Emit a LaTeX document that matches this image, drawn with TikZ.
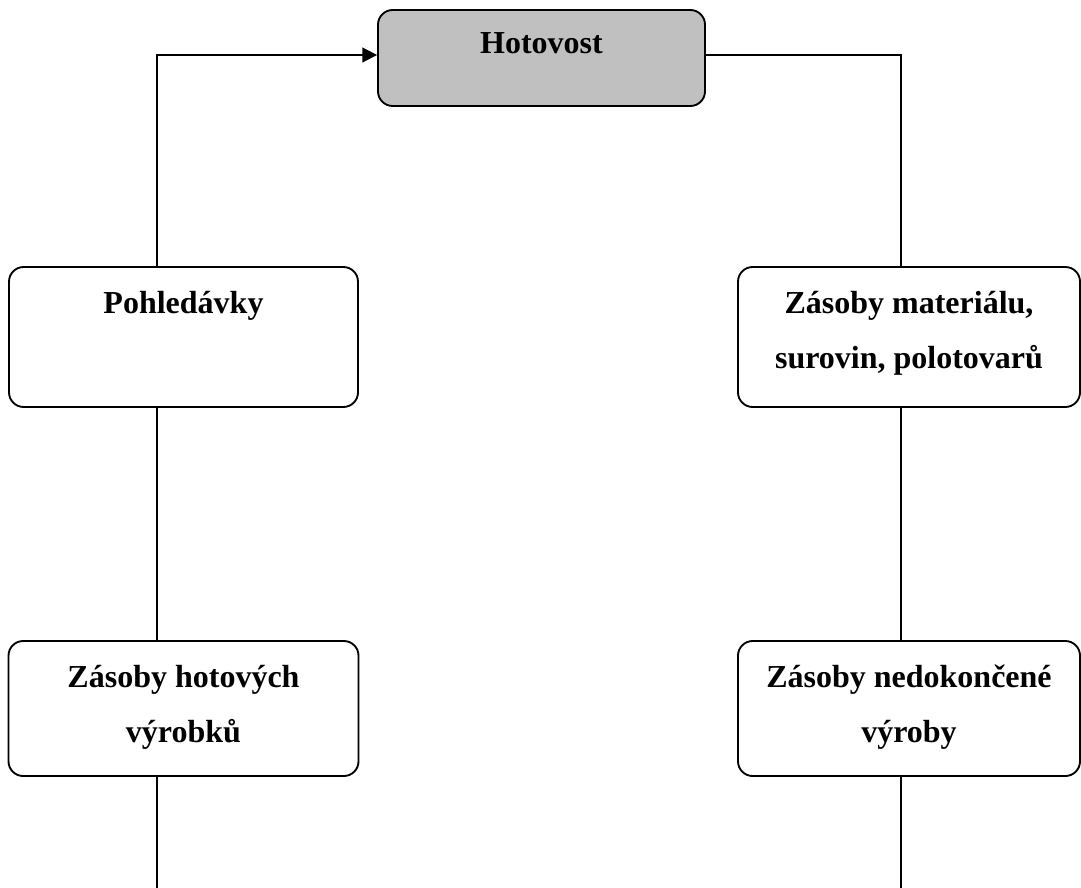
\documentclass[tikz,border=0pt]{standalone}
\usepackage{fontspec}
\setmainfont{Liberation Serif}
\usetikzlibrary{arrows.meta,calc}
\definecolor{boxgray}{HTML}{C0C0C0}
\tikzset{
  flowbox/.style={draw=black, line width=1.4pt, rounded corners=11pt, fill=white, inner sep=0pt},
  boxlabel/.style={font=\bfseries\fontsize{24}{41.25}\selectfont, align=center, anchor=base, inner sep=0pt},
  conn/.style={draw=black, line width=1.4pt},
  tip/.style={-{Triangle[length=11pt,width=11pt]}}
}
\begin{document}
\begin{tikzpicture}[x=0.75pt,y=-0.75pt]
\useasboundingbox (0,0) rectangle (1081,888);
% boxes
\node[flowbox, fill=boxgray, minimum width=245.25pt, minimum height=72pt] (hot) at (541.5,58) {};
\node[flowbox, minimum width=261.75pt, minimum height=105pt] (pohl) at (183.5,337) {};
\node[flowbox, minimum width=256.5pt, minimum height=105pt] (mat) at (909,337) {};
\node[flowbox, minimum width=262.5pt, minimum height=101.25pt] (hv) at (183.5,708.5) {};
\node[flowbox, minimum width=256.5pt, minimum height=101.25pt] (ned) at (909,708.5) {};
% labels (base = baseline of the last line)
\node[boxlabel] (thot) at (541.5,54) {Hotovost};
\node[boxlabel] (tpohl) at (183.5,313) {Pohledávky};
\node[boxlabel] (tmat) at (909,368) {Zásoby materiálu,\\surovin, polotovarů};
\node[boxlabel] (thv) at (183.5,742) {Zásoby hotových\\výrobků};
\node[boxlabel] (tned) at (909,742) {Zásoby nedokončené\\výroby};
% connector helpers
\coordinate (xl) at (157,0);
\coordinate (xr) at (901,0);
\coordinate (ay) at (0,55);
\coordinate (bl) at (157,888);
\coordinate (br) at (901,888);
% connectors
\draw[conn, tip] (xl |- pohl.north) -- (xl |- ay) -- (hot.west |- ay);
\draw[conn] (hot.east |- ay) -- (xr |- ay) -- (xr |- mat.north);
\draw[conn] (xl |- pohl.south) -- (xl |- hv.north);
\draw[conn] (xr |- mat.south) -- (xr |- ned.north);
\draw[conn] (xl |- hv.south) -- (bl);
\draw[conn] (xr |- ned.south) -- (br);
\end{tikzpicture}
\end{document}
